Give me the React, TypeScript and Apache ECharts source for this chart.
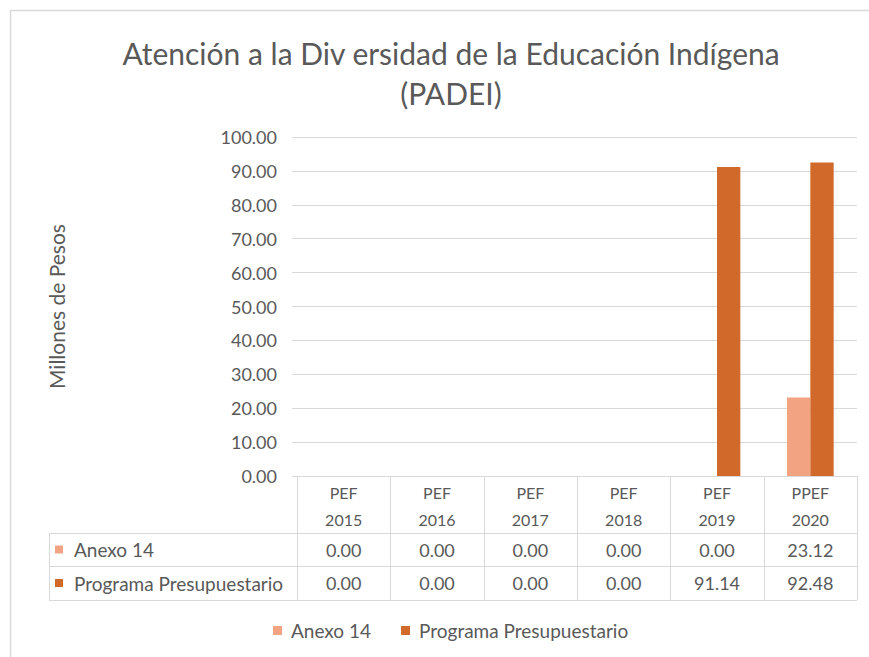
import React, { useEffect, useRef } from "react";
import * as echarts from "echarts";

const TITLE = "Atención a la Div ersidad de la Educación Indígena\n(PADEI)";
const Y_NAME = "Millones de Pesos";
const categories = ["PEF\n2015", "PEF\n2016", "PEF\n2017", "PEF\n2018", "PEF\n2019", "PPEF\n2020"];
const seriesNames = ["Anexo 14", "Programa Presupuestario"];
const anexo14 = [0, 0, 0, 0, 0, 23.12];
const programa = [0, 0, 0, 0, 91.14, 92.48];
const seriesColors = ["#F2A482", "#D0692A"];
const Y_MIN = 0;
const Y_MAX = 100;
const Y_STEP = 10;

const FONT = "Lato, 'Open Sans', sans-serif";
const TXT = "#595959";
const LINE = "#D9D9D9";

export default function App() {
  const ref = useRef<HTMLDivElement>(null);
  useEffect(() => {
    document.body.style.margin = "0";
    if (!ref.current) return;
    const chart = echarts.init(ref.current, undefined, { renderer: "svg" });

    const W = 869, H = 657;
    const PL = 297, PR = 857, AXIS_Y = 476;
    const HB = 533, R1B = 566, R2B = 600, LL = 49;
    const colW = (PR - PL) / categories.length;
    const allSeries = [anexo14, programa];

    const g: any[] = [];
    // frame (top and left edges visible)
    g.push({ type: "line", shape: { x1: 10, y1: 10.5, x2: W, y2: 10.5 }, style: { stroke: LINE, lineWidth: 1.5 }, silent: true });
    g.push({ type: "line", shape: { x1: 10.5, y1: 10, x2: 10.5, y2: H }, style: { stroke: LINE, lineWidth: 1.5 }, silent: true });
    // table lines
    for (let i = 0; i <= categories.length; i++) {
      const x = Math.round(PL + i * colW) + 0.5;
      g.push({ type: "line", shape: { x1: x, y1: AXIS_Y, x2: x, y2: R2B }, style: { stroke: LINE, lineWidth: 1 } });
    }
    g.push({ type: "line", shape: { x1: LL + 0.5, y1: HB, x2: LL + 0.5, y2: R2B }, style: { stroke: LINE, lineWidth: 1 } });
    [HB, R1B, R2B].forEach((y) => {
      g.push({ type: "line", shape: { x1: LL, y1: y + 0.5, x2: PR, y2: y + 0.5 }, style: { stroke: LINE, lineWidth: 1 } });
    });
    const rowTops = [HB, R1B];
    const rowBots = [R1B, R2B];
    allSeries.forEach((vals, r) => {
      const cy = (rowTops[r] + rowBots[r]) / 2;
      g.push({ type: "rect", shape: { x: 55, y: cy - 4, width: 8, height: 8 }, style: { fill: seriesColors[r] } });
      g.push({ type: "text", x: 74, y: cy, style: { text: seriesNames[r], font: `19px ${FONT}`, fill: TXT, textVerticalAlign: "middle", textAlign: "left" } });
      vals.forEach((v, i) => {
        g.push({ type: "text", x: PL + (i + 0.5) * colW, y: cy, style: { text: v.toFixed(2), font: `18px ${FONT}`, fill: TXT, textVerticalAlign: "middle", textAlign: "center" } });
      });
    });

    chart.setOption({
      animation: false,
      backgroundColor: "#fff",
      textStyle: { fontFamily: FONT },
      title: {
        text: TITLE,
        left: 446,
        textAlign: "center",
        top: 28,
        textStyle: { fontFamily: FONT, fontSize: 30, fontWeight: "normal", color: TXT, lineHeight: 40 },
      },
      grid: { left: PL, right: W - PR, top: 137, bottom: H - AXIS_Y, containLabel: false },
      legend: {
        data: seriesNames,
        bottom: 12,
        left: 268,
        icon: "rect",
        itemWidth: 9,
        itemHeight: 9,
        itemGap: 30,
        textStyle: { fontFamily: FONT, fontSize: 19, color: TXT, padding: [0, 0, 0, 4] },
      },
      xAxis: {
        type: "category",
        data: categories,
        axisLine: { show: true, lineStyle: { color: LINE } },
        axisTick: { show: false },
        axisLabel: { interval: 0, margin: 3, fontSize: 16, lineHeight: 27, color: TXT, fontFamily: FONT },
      },
      yAxis: {
        type: "value",
        min: Y_MIN,
        max: Y_MAX,
        interval: Y_STEP,
        name: Y_NAME,
        nameLocation: "middle",
        nameRotate: 90,
        nameGap: 230,
        nameTextStyle: { fontFamily: FONT, fontSize: 21, color: TXT },
        axisLine: { show: false },
        axisTick: { show: true, length: 5, lineStyle: { color: LINE } },
        axisLabel: { formatter: (v: number) => v.toFixed(2), fontSize: 18, color: TXT, margin: 20, fontFamily: FONT },
        splitLine: { lineStyle: { color: LINE } },
      },
      series: allSeries.map((vals, i) => ({
        type: "bar",
        name: seriesNames[i],
        data: vals,
        barGap: "0%",
        barCategoryGap: "50%",
        itemStyle: { color: seriesColors[i] },
      })),
      graphic: g,
    });
    return () => chart.dispose();
  }, []);
  return <div ref={ref} style={{ width: 869, height: 657 }} />;
}
